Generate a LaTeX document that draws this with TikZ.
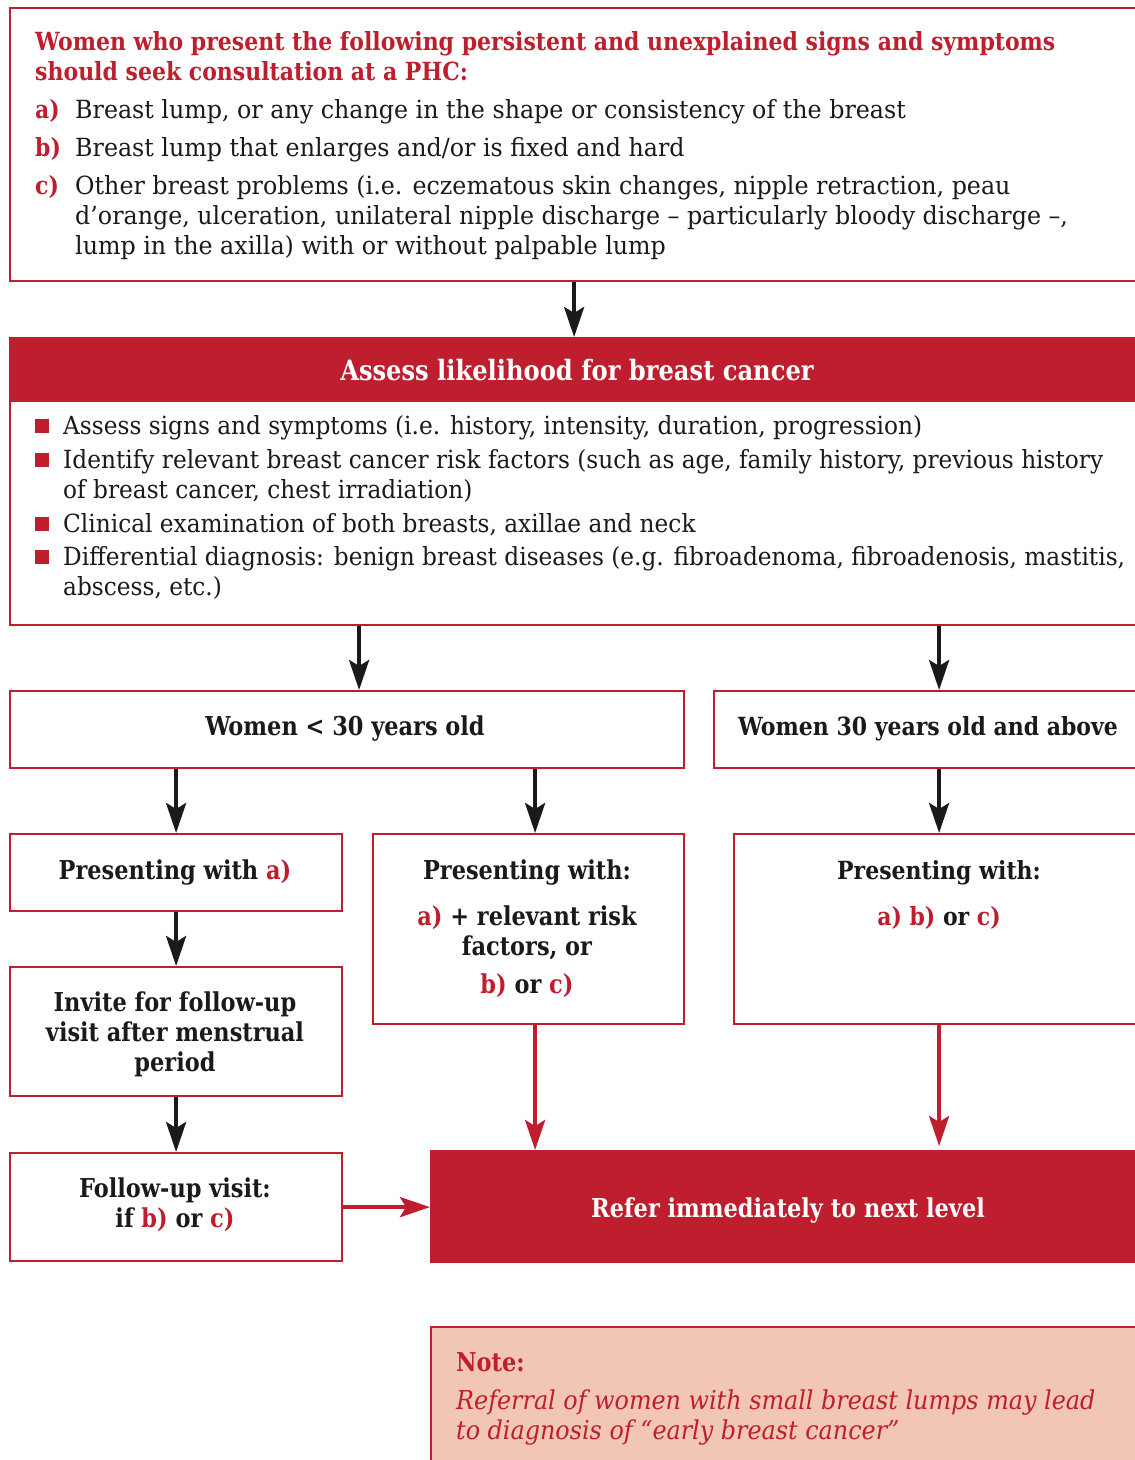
\documentclass[tikz,border=0pt]{standalone}
\usepackage{fontspec}
\setmainfont{DejaVu Serif}[FakeStretch=0.95]
\newfontfamily\bul{DejaVu Serif}[FakeStretch=0.93]
\newfontfamily\hb{DejaVu Serif}[FakeStretch=0.88]
\newfontfamily\cnd{DejaVu Serif Condensed}[FakeStretch=0.96]
\newfontfamily\cndi{DejaVu Serif Condensed}[FakeStretch=1.02]
\usetikzlibrary{arrows.meta}
\definecolor{brred}{HTML}{BE1E2D}
\definecolor{notebg}{HTML}{F2C6B4}
\definecolor{ink}{HTML}{1A1A1A}
\tikzset{
 frame/.style={draw=brred, line width=2.2pt, fill=white, inner sep=0pt, anchor=north west},
 redbox/.style={draw=brred, fill=brred, line width=2.2pt, inner sep=0pt, anchor=north west},
 notebox/.style={draw=brred, fill=notebg, line width=2.2pt, inner sep=0pt, anchor=north west},
 body/.style={font=\fontsize{25}{30}\selectfont, text=ink, inner sep=0pt, anchor=base west},
 bbody/.style={font=\bul\fontsize{25}{30}\selectfont, text=ink, inner sep=0pt, anchor=base west},
 lab/.style={font=\hb\bfseries\fontsize{25}{30}\selectfont, text=brred, inner sep=0pt, anchor=base west},
 head/.style={font=\hb\bfseries\fontsize{25}{30}\selectfont, text=brred, inner sep=0pt, anchor=base west},
 cb/.style={font=\cnd\bfseries\fontsize{26}{30}\selectfont, text=ink, inner sep=0pt, anchor=base},
 wb/.style={font=\hb\bfseries\fontsize{25}{30}\selectfont, text=ink, inner sep=0pt, anchor=base},
 noteit/.style={font=\cndi\itshape\fontsize{26}{30}\selectfont, text=brred, inner sep=0pt, anchor=base west},
 blk/.style={draw=ink, line width=4pt, -{Stealth[length=30pt,width=20pt,inset=6pt]}},
 rar/.style={draw=brred, line width=4pt, -{Stealth[length=30pt,width=20pt,inset=6pt]}},
 sq/.style={fill=brred, minimum size=14pt, inner sep=0pt},
}
\newcommand\rd[1]{\textcolor{brred}{#1}}
\begin{document}
\begin{tikzpicture}[x=1pt,y=-1pt]
\clip (0,0) rectangle (1135,1460);
\fill[white] (0,0) rectangle (1135,1460);

% boxes
\node[frame, minimum width=1128pt, minimum height=273pt] (top) at (9,7) {};
\node[frame, minimum width=1128pt, minimum height=287pt] (assess) at (9,337) {};
\node[redbox, minimum width=1128pt, minimum height=63pt] (assesshead) at (9,337) {};
\node[frame, minimum width=674pt, minimum height=77pt] (young) at (9,690) {};
\node[frame, minimum width=424pt, minimum height=77pt] (old) at (713,690) {};
\node[frame, minimum width=332pt, minimum height=77pt] (pa) at (9,833) {};
\node[frame, minimum width=311pt, minimum height=190pt] (mid) at (372,833) {};
\node[frame, minimum width=404pt, minimum height=190pt] (right) at (733,833) {};
\node[frame, minimum width=332pt, minimum height=129pt] (invite) at (9,966) {};
\node[frame, minimum width=332pt, minimum height=108pt] (follow) at (9,1152) {};
\node[redbox, minimum width=707pt, minimum height=111pt] (refer) at (430,1150) {};
\node[notebox, minimum width=707pt, minimum height=140pt] (note) at (430,1326) {};

% top box text
\node[head] (h1) at (35,50) {Women who present the following persistent and unexplained signs and symptoms};
\node[head] (h2) at (35,80) {should seek consultation at a PHC:};
\node[lab] (la) at (35,118) {a)};
\node[body] (ta) at (75,118) {Breast lump, or any change in the shape or consistency of the breast};
\node[lab] (lb) at (35,156) {b)};
\node[body] (tb) at (75,156) {Breast lump that enlarges and/or is fixed and hard};
\node[lab] (lc) at (35,194) {c)};
\node[body] (tc1) at (75,194) {Other breast problems (i.e. eczematous skin changes, nipple retraction, peau};
\node[body] (tc2) at (75,224) {d’orange, ulceration, unilateral nipple discharge – particularly bloody discharge –,};
\node[body] (tc3) at (75,254) {lump in the axilla) with or without palpable lump};

% assess
\node[font=\cnd\bfseries\fontsize{28}{34}\selectfont, text=white, inner sep=0pt, anchor=base] (atitle) at (577,380) {Assess likelihood for breast cancer};
\node[sq] (s1) at (42,426) {};
\node[bbody] (b1) at (63,434) {Assess signs and symptoms (i.e. history, intensity, duration, progression)};
\node[sq] (s2) at (42,460) {};
\node[bbody] (b2a) at (63,468) {Identify relevant breast cancer risk factors (such as age, family history, previous history};
\node[bbody] (b2b) at (63,498) {of breast cancer, chest irradiation)};
\node[sq] (s3) at (42,524) {};
\node[bbody] (b3) at (63,532) {Clinical examination of both breasts, axillae and neck};
\node[sq] (s4) at (42,557) {};
\node[bbody] (b4a) at (63,565) {Differential diagnosis: benign breast diseases (e.g. fibroadenoma, fibroadenosis, mastitis,};
\node[bbody] (b4b) at (63,595) {abscess, etc.)};

% branch texts
\node[cb] (tyoung) at (345,735) {Women < 30 years old};
\node[wb] (told) at (928,735) {Women 30 years old and above};
\node[cb] (tpa) at (175,879) {Presenting with \rd{a)}};
\node[cb] (tm1) at (527,879) {Presenting with:};
\node[cb] (tm2) at (527,925) {\rd{a)} + relevant risk};
\node[cb] (tm3) at (527,955) {factors, or};
\node[cb] (tm4) at (527,993) {\rd{b)} or \rd{c)}};
\node[wb] (tr1) at (939,879) {Presenting with:};
\node[wb] (tr2) at (939,925) {\rd{a) b)} or \rd{c)}};
\node[cb] (ti1) at (175,1011) {Invite for follow-up};
\node[cb] (ti2) at (175,1041) {visit after menstrual};
\node[cb] (ti3) at (175,1071) {period};
\node[cb] (tf1) at (175,1197) {Follow-up visit:};
\node[cb] (tf2) at (175,1227) {if \rd{b)} or \rd{c)}};
\node[cb, text=white] (tref) at (788,1217) {Refer immediately to next level};
\node[cb, text=brred, anchor=base west] (tn1) at (456,1371) {Note:};
\node[noteit] (tn2) at (456,1409) {Referral of women with small breast lumps may lead};
\node[noteit] (tn3) at (456,1439) {to diagnosis of “early breast cancer”};

% connectors
\draw[blk] (top.south) -- (assess.north);
\draw[blk] ([xshift=12pt]young.north |- assess.south) -- ([xshift=12pt]young.north);
\draw[blk] ([xshift=13pt]old.north |- assess.south) -- ([xshift=13pt]old.north);
\draw[blk] (young.south -| pa.north) -- (pa.north);
\draw[blk] ([xshift=6.5pt]mid.north |- young.south) -- ([xshift=6.5pt]mid.north);
\draw[blk] ([xshift=13pt]old.south) -- ([xshift=13pt]old.south |- right.north);
\draw[blk] (pa.south) -- (invite.north);
\draw[blk] (invite.south) -- (follow.north);
\draw[rar] ([xshift=6.5pt]mid.south) -- ([xshift=6.5pt]mid.south |- refer.north);
\draw[rar] ([xshift=3pt]right.south) -- ([xshift=3pt,yshift=4pt]right.south |- refer.north);
\draw[rar] (follow.east) -- (follow.east -| refer.west);
\end{tikzpicture}
\end{document}
